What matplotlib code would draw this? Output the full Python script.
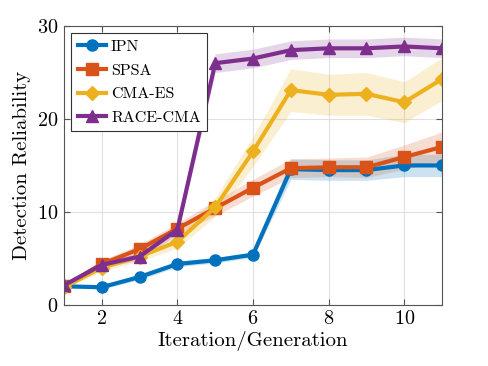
import numpy as np
import matplotlib
matplotlib.use("Agg")
import matplotlib.pyplot as plt

plt.rcParams['font.family'] = 'cmr10'
plt.rcParams['mathtext.fontset'] = 'cm'
plt.rcParams['axes.formatter.use_mathtext'] = True

iterations = np.arange(1, 12)
methods = ["IPN", "SPSA", "CMA-ES", "RACE-CMA"]
ipn = [2.0, 1.9, 3.0, 4.4, 4.8, 5.4, 14.6, 14.5, 14.5, 15.0, 15.0]
spsa = [2.0, 4.4, 6.0, 8.2, 10.4, 12.6, 14.7, 14.8, 14.8, 15.9, 17.0]
cmaes = [1.9, 4.0, 5.2, 6.8, 10.5, 16.5, 23.1, 22.6, 22.7, 21.8, 24.3]
race = [2.1, 4.3, 5.2, 8.1, 26.0, 26.5, 27.4, 27.6, 27.6, 27.8, 27.6]
ipn_sd = [0.2, 0.2, 0.3, 0.3, 0.3, 0.3, 1.1, 1.1, 1.1, 1.2, 1.2]
spsa_sd = [0.2, 0.4, 0.5, 0.6, 0.8, 0.9, 1.0, 1.0, 1.1, 1.3, 1.6]
cmaes_sd = [0.2, 0.4, 0.5, 0.7, 1.0, 1.6, 2.3, 2.2, 2.3, 2.2, 2.3]
race_sd = [0.2, 0.3, 0.4, 0.5, 1.0, 1.0, 1.0, 1.0, 1.0, 1.0, 1.0]

colors = ["#0072BD", "#D95319", "#EDB120", "#7E2F8E"]
markers = ["o", "s", "D", "^"]
sizes = [8, 8, 7, 9]

fig = plt.figure(figsize=(4.88, 3.66), dpi=100)
ax = fig.add_axes([0.131, 0.167, 0.775, 0.762])

for vals, sd, c, m, ms, name in zip([ipn, spsa, cmaes, race],
                                    [ipn_sd, spsa_sd, cmaes_sd, race_sd],
                                    colors, markers, sizes, methods):
    vals = np.array(vals)
    sd = np.array(sd)
    ax.fill_between(iterations, vals - sd, vals + sd, color=c, alpha=0.2, lw=0)
    ax.plot(iterations, vals, color=c, marker=m, ms=ms, lw=3, label=name)

ax.set_xlim(1, 11)
ax.set_ylim(0, 30)
ax.set_xticks([2, 4, 6, 8, 10])
ax.set_yticks([0, 10, 20, 30])
ax.grid(True, color="#e0e0e0", lw=0.8)
ax.set_axisbelow(True)
ax.tick_params(direction="in", top=True, right=True, labelsize=14.5, length=4,
               color="#555555", pad=4)
for s in ax.spines.values():
    s.set_color("#555555")
    s.set_linewidth(0.8)
ax.set_xlabel("Iteration/Generation", fontsize=15, labelpad=2)
ax.set_ylabel("Detection Reliability", fontsize=15, labelpad=4)
leg = ax.legend(loc="upper left", fontsize=11.5, fancybox=False, framealpha=1,
                edgecolor="#333333", handlelength=1.8, borderpad=0.4,
                labelspacing=0.6, handletextpad=0.3, borderaxespad=0.45)
leg.get_frame().set_linewidth(0.8)

fig.savefig("out.png", dpi=100)
